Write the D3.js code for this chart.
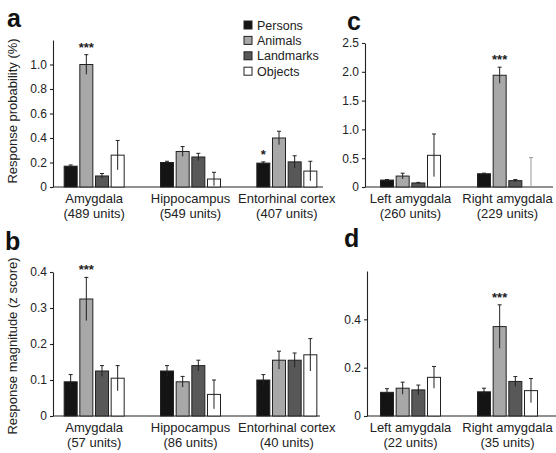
<!DOCTYPE html>
<html>
<head>
<meta charset="utf-8">
<script src="https://cdn.jsdelivr.net/npm/d3@7"></script>
<style>
  body { margin: 0; background: #fff; }
  svg { font-family: "Liberation Sans", Arial, sans-serif; }
</style>
</head>
<body>
<div id="chart"></div>
<script>

// categories
var categories = ["Persons", "Animals", "Landmarks", "Objects"];
var colors = ["#141414", "#a8a8a8", "#585858", "#ffffff"];

var regionsAB = ["Amygdala", "Hippocampus", "Entorhinal cortex"];
var unitsA = ["(489 units)", "(549 units)", "(407 units)"];
var unitsB = ["(57 units)", "(86 units)", "(40 units)"];
var regionsCD = ["Left amygdala", "Right amygdala"];
var unitsC = ["(260 units)", "(229 units)"];
var unitsD = ["(22 units)", "(35 units)"];

// panel a: response probability (%)
var probA = [[0.17, 1.00, 0.09, 0.26], [0.20, 0.29, 0.245, 0.065], [0.195, 0.40, 0.205, 0.13]];
var probAErr = [[0.01, 0.08, 0.02, 0.12], [0.01, 0.04, 0.03, 0.055], [0.01, 0.055, 0.05, 0.08]];
var sigA = [["", "***", "", ""], ["", "", "", ""], ["*", "", "", ""]];

// panel b: response magnitude (z score)
var magB = [[0.095, 0.325, 0.125, 0.105], [0.125, 0.095, 0.14, 0.06], [0.10, 0.155, 0.155, 0.17]];
var magBErr = [[0.02, 0.06, 0.015, 0.035], [0.015, 0.015, 0.015, 0.04], [0.015, 0.025, 0.02, 0.045]];
var sigB = [["", "***", "", ""], ["", "", "", ""], ["", "", "", ""]];

// panel c
var probC = [[0.12, 0.19, 0.07, 0.55], [0.23, 1.94, 0.11, 0]];
var probCErr = [[0.01, 0.05, 0.01, 0.37], [0.01, 0.14, 0.02, 0.51]];
var sigC = [["", "", "", ""], ["", "***", "", ""]];

// panel d
var magD = [[0.098, 0.115, 0.108, 0.16], [0.10, 0.37, 0.143, 0.105]];
var magDErr = [[0.015, 0.025, 0.02, 0.045], [0.015, 0.09, 0.02, 0.05]];
var sigD = [["", "", "", ""], ["", "***", "", ""]];

var width = 556, height = 453;
var svg = d3.select("#chart").append("svg").attr("width", width).attr("height", height);
var ink = "#222";

function drawPanel(p) {
    var g = svg.append("g");
    var y = d3.scaleLinear().domain([0, p.ymax]).range([p.base, p.top]);
    var x0 = d3.scaleBand().domain(p.regions).range(p.xrange);
    var x1 = d3.scaleBand().domain(categories).range([0, 60]).paddingInner(0.17);

    var yAxis = d3.axisLeft(y).tickValues(p.ticks).tickSize(3).tickSizeOuter(0).tickPadding(3)
        .tickFormat(function(d) { return d === 0 ? "0" : d3.format(".1f")(d); });
    var ax = g.append("g").attr("transform", "translate(" + p.axisX + ",0)").call(yAxis);
    ax.selectAll("path,line").attr("stroke", ink).attr("stroke-width", 1.1);
    ax.selectAll("text").attr("font-size", 12).attr("fill", ink);

    // baseline
    g.append("line").attr("x1", p.axisX).attr("x2", p.xend)
        .attr("y1", y(0)).attr("y2", y(0)).attr("stroke", ink).attr("stroke-width", 1.2);

    var rows = [];
    p.regions.forEach(function(r, i) {
        categories.forEach(function(c, j) {
            rows.push({ region: r, cat: c, ci: j, v: p.values[i][j], e: p.errs[i][j], sig: p.sig[i][j] });
        });
    });
    function bx(d) { return x0(d.region) + x0.bandwidth() / 2 - 30 + x1(d.cat); }

    g.selectAll("rect.bar").data(rows).enter().append("rect")
        .attr("class", "bar")
        .attr("x", bx)
        .attr("y", function(d) { return y(d.v); })
        .attr("width", x1.bandwidth())
        .attr("height", function(d) { return y(0) - y(d.v); })
        .attr("fill", function(d) { return colors[d.ci]; })
        .attr("stroke", function(d) { return d.v > 0 ? ink : "none"; })
        .attr("stroke-width", 1);

    var eb = g.selectAll("g.err").data(rows).enter().append("g").attr("class", "err")
        .attr("stroke", function(d) { return d.v > 0 ? ink : "#999"; })
        .attr("stroke-width", 1);
    eb.append("line")
        .attr("x1", function(d) { return bx(d) + x1.bandwidth() / 2; })
        .attr("x2", function(d) { return bx(d) + x1.bandwidth() / 2; })
        .attr("y1", function(d) { return y(Math.max(0, d.v - d.e)); })
        .attr("y2", function(d) { return y(d.v + d.e); });
    eb.append("line")
        .attr("x1", function(d) { return bx(d) + x1.bandwidth() / 2 - 2; })
        .attr("x2", function(d) { return bx(d) + x1.bandwidth() / 2 + 2; })
        .attr("y1", function(d) { return y(d.v + d.e); })
        .attr("y2", function(d) { return y(d.v + d.e); });

    g.selectAll("text.sig").data(rows.filter(function(d) { return d.sig; })).enter().append("text")
        .attr("class", "sig")
        .attr("x", function(d) { return bx(d) + x1.bandwidth() / 2; })
        .attr("y", function(d) { return y(d.v + d.e) - 3; })
        .attr("text-anchor", "middle").attr("font-size", 13).attr("font-weight", "bold").attr("fill", ink)
        .text(function(d) { return d.sig; });

    var lab = g.selectAll("text.reg").data(p.regions).enter().append("text")
        .attr("class", "reg")
        .attr("x", function(d) { return x0(d) + x0.bandwidth() / 2; })
        .attr("text-anchor", "middle").attr("font-size", 13).attr("fill", ink);
    lab.append("tspan").attr("x", function(d) { return x0(d) + x0.bandwidth() / 2; })
        .attr("y", y(0) + 16).text(function(d) { return d; });
    lab.append("tspan").attr("x", function(d) { return x0(d) + x0.bandwidth() / 2; })
        .attr("y", y(0) + 31).text(function(d, i) { return p.units[i]; });

    if (p.title) {
        g.append("text").attr("transform", "translate(17," + p.titleY + ") rotate(-90)")
            .attr("text-anchor", "middle").attr("font-size", 13).attr("fill", ink).text(p.title);
    }
    g.append("text").attr("x", p.letter[0]).attr("y", p.letter[1])
        .attr("font-size", 25).attr("font-weight", "bold").attr("fill", "#111").text(p.letter[2]);
}

drawPanel({ regions: regionsAB, units: unitsA, values: probA, errs: probAErr, sig: sigA,
    ymax: 1.2, base: 187, top: 40, ticks: [0, 0.2, 0.4, 0.6, 0.8, 1.0],
    axisX: 53, xend: 323, xrange: [46, 335],
    title: "Response probability (%)", titleY: 111, letter: [7, 27, "a"] });

drawPanel({ regions: regionsAB, units: unitsB, values: magB, errs: magBErr, sig: sigB,
    ymax: 0.4, base: 416, top: 272, ticks: [0, 0.1, 0.2, 0.3, 0.4],
    axisX: 53, xend: 320, xrange: [46, 335],
    title: "Response magnitude (z score)", titleY: 346, letter: [5, 250, "b"] });

drawPanel({ regions: regionsCD, units: unitsC, values: probC, errs: probCErr, sig: sigC,
    ymax: 2.5, base: 187, top: 43, ticks: [0, 0.5, 1.0, 1.5, 2.0, 2.5],
    axisX: 365, xend: 553, xrange: [362, 556],
    title: null, letter: [347, 30, "c"] });

drawPanel({ regions: regionsCD, units: unitsD, values: magD, errs: magDErr, sig: sigD,
    ymax: 0.6, base: 416, top: 271, ticks: [0, 0.2, 0.4],
    axisX: 367, xend: 556, xrange: [362, 556],
    title: null, letter: [344, 247, "d"] });

// legend
var legend = svg.append("g").attr("transform", "translate(244,25)");
var li = legend.selectAll("g").data(categories).enter().append("g")
    .attr("transform", function(d, i) { return "translate(0," + i * 15.4 + ")"; });
li.append("rect").attr("x", 0).attr("y", -4).attr("width", 8).attr("height", 8)
    .attr("fill", function(d, i) { return colors[i]; }).attr("stroke", ink).attr("stroke-width", 1);
li.append("text").attr("x", 13).attr("y", 4.5).attr("font-size", 12.5).attr("fill", ink)
    .text(function(d) { return d; });

</script>
</body>
</html>
